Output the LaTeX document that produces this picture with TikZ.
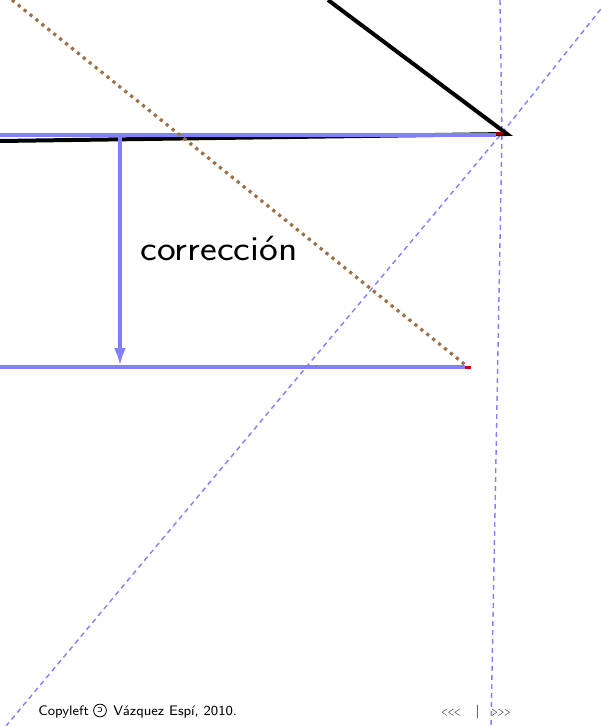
\documentclass[tikz,border=0pt]{standalone}
\usepackage{tikz}
\usetikzlibrary{arrows.meta}
\definecolor{brownish}{RGB}{158,112,72}
\definecolor{lightblue}{RGB}{128,128,255}

\begin{document}
\begin{tikzpicture}[x=0.5pt,y=-0.5pt,>={Latex[length=9pt,width=6pt]},
  guide/.style={lightblue,line width=0.7pt,dash pattern=on 2.5pt off 2pt},
  level/.style={lightblue,line width=2.2pt},
  foot/.style={font=\sffamily\fontsize{6.9}{8}\selectfont,anchor=base west,inner sep=0pt}]
  \useasboundingbox (0,0) rectangle (600,726);
  \coordinate (top) at (328,0);
  \coordinate (tip) at (507,134);
  \coordinate (left) at (0,141);
  \coordinate (P) at (502,133);
  \coordinate (Q) at (468,367);
  \draw[guide] (500,0) -- (P) -- (491,726);
  \draw[guide] (612,-5) -- (P) -- (6,726);
  \draw[line width=2pt,line join=miter] (top) -- (tip) -- (left);
  \draw[level] (0,135) -- (496,135);
  \draw[line width=1.5pt,red!60!black] (496,133.5) -- (503,133.5);
  \draw[brownish,line width=1.6pt,dash pattern=on 1.6pt off 2.2pt] (12,0) -- (Q);
  \draw[level] (0,367) -- (465,367);
  \draw[line width=1.5pt,red!80!black] (465,367) -- (471,367);
  \coordinate (from) at (120,136);
  \coordinate (to) at (120,366);
  \draw[->,level,line width=2pt] (from) -- (to);
  \node[anchor=base,inner sep=0pt,font=\sffamily\fontsize{17.5}{20}\selectfont] (corr) at (219,261) {\scalebox{1.14}[1]{corrección}};
  \node[foot] (copy) at (38,715) {Copyleft};
  \node[draw,circle,line width=0.4pt,minimum size=6.4pt,inner sep=0pt,font=\sffamily\fontsize{5.5}{6}\selectfont] (cl) at (100,710.5) {\reflectbox{c}};
  \node[foot] (author) at (113,715) {Vázquez Espí, 2010.};
  \node[foot] (prev) at (441,715) {\scalebox{0.56}[0.8]{<\kern0pt<\kern0pt<}};
  \node[foot] (sep) at (475,715) {|};
  \node[foot] (next) at (491,715) {\scalebox{0.56}[0.8]{>\kern0pt>\kern0pt>}};
\end{tikzpicture}
\end{document}
